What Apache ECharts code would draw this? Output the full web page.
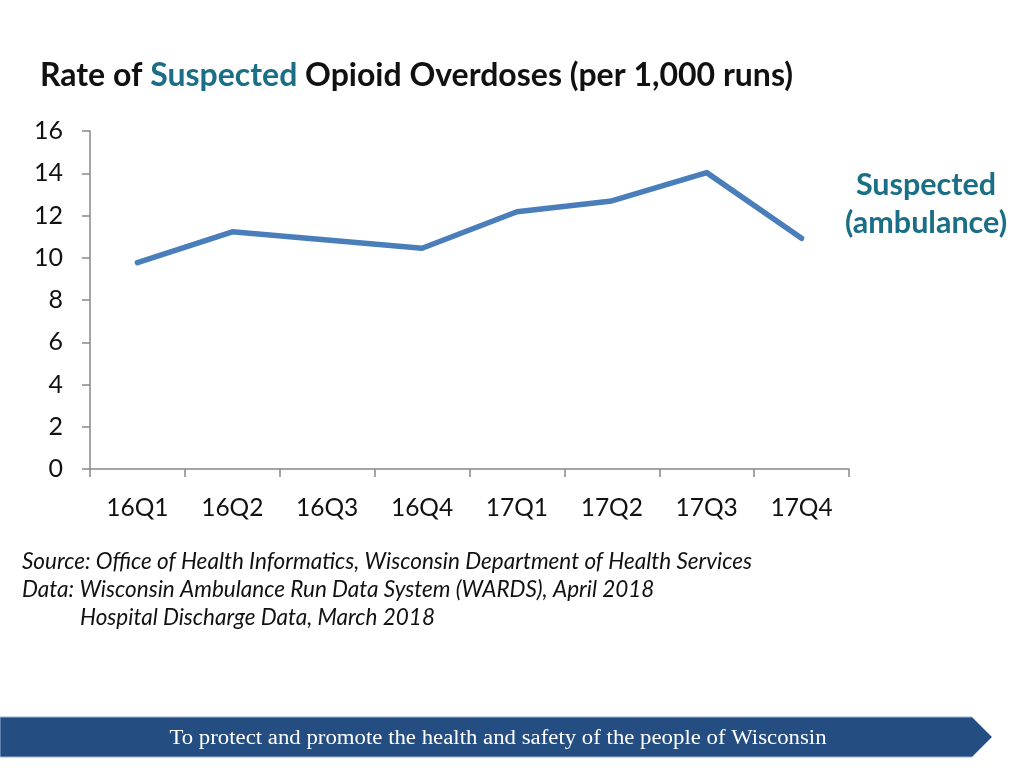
<!DOCTYPE html>
<html><head><meta charset="utf-8">
<script src="https://cdn.jsdelivr.net/npm/echarts@6/dist/echarts.min.js"></script>
<style>html,body{margin:0;padding:0;background:#fff}#c{width:1024px;height:768px}</style>
</head><body><div id="c"></div>
<script>
const categories = ['16Q1','16Q2','16Q3','16Q4','17Q1','17Q2','17Q3','17Q4'];
const suspected = [9.77, 11.23, 10.84, 10.45, 12.18, 12.69, 14.03, 10.92];
const yTicks = {min: 0, max: 16, interval: 2};
const seriesName = 'Suspected\n(ambulance)';
const sourceLines = [
  'Source: Office of Health Informatics, Wisconsin Department of Health Services',
  'Data: Wisconsin Ambulance Run Data System (WARDS), April 2018',
  'Hospital Discharge Data, March 2018'
];
const footer = 'To protect and promote the health and safety of the people of Wisconsin';

const font = 'Lato, "Open Sans", sans-serif';
const srcStyle = {fill: '#111', fontSize: 22.5, fontStyle: 'italic', fontFamily: font, verticalAlign: 'middle'};
const chart = echarts.init(document.getElementById('c'), null, {renderer: 'canvas'});
chart.setOption({
  backgroundColor: '#fff',
  animation: false,
  grid: {left: 90, right: 175, top: 131, bottom: 299},
  xAxis: {
    type: 'category', data: categories, boundaryGap: true,
    axisLine: {lineStyle: {color: '#888', width: 1.5}},
    axisTick: {show: true, length: 8, lineStyle: {color: '#888', width: 1.5}},
    axisLabel: {color: '#111', fontSize: 24.5, fontFamily: font, margin: 27}
  },
  yAxis: {
    type: 'value', min: yTicks.min, max: yTicks.max, interval: yTicks.interval,
    splitLine: {show: false},
    axisLine: {show: true, lineStyle: {color: '#888', width: 1.5}},
    axisTick: {show: true, length: 8, lineStyle: {color: '#888', width: 1.5}},
    axisLabel: {color: '#111', fontSize: 25, fontFamily: font, margin: 27}
  },
  series: [{
    name: seriesName, type: 'line', data: suspected,
    symbol: 'none', lineStyle: {color: '#4a7ebb', width: 5.5, cap: 'round', join: 'round'}
  }],
  graphic: [
    {type: 'text', x: 40, y: 76, style: {
      text: '{a|Rate of }{b|Suspected}{a| Opioid Overdoses (per 1,000 runs)}',
      verticalAlign: 'middle',
      rich: {
        a: {fontSize: 32, fontWeight: 'bold', fontFamily: font, fill: '#111'},
        b: {fontSize: 32, fontWeight: 'bold', fontFamily: font, fill: '#1a6e85'}
      }
    }},
    {type: 'text', x: 926, y: 204, style: {
      text: seriesName, fill: '#1a6e85', fontSize: 30.5, fontWeight: 'bold', fontFamily: font,
      align: 'center', verticalAlign: 'middle', lineHeight: 38
    }},
    {type: 'text', x: 22, y: 562, style: Object.assign({text: sourceLines[0]}, srcStyle)},
    {type: 'text', x: 22, y: 590, style: Object.assign({text: sourceLines[1]}, srcStyle)},
    {type: 'text', x: 80, y: 618, style: Object.assign({text: sourceLines[2]}, srcStyle)},
    {type: 'polygon', shape: {points: [[0,717],[972,717],[992,737],[972,757],[0,757]]},
      style: {fill: '#244d82', stroke: '#9bb3d3', lineWidth: 1}},
    {type: 'text', x: 498, y: 739, scaleX: 1.14, style: {
      text: footer, fill: '#fff', fontSize: 20, fontFamily: '"Liberation Serif", "DejaVu Serif", serif',
      align: 'center', verticalAlign: 'middle'
    }}
  ]
});
</script></body></html>
